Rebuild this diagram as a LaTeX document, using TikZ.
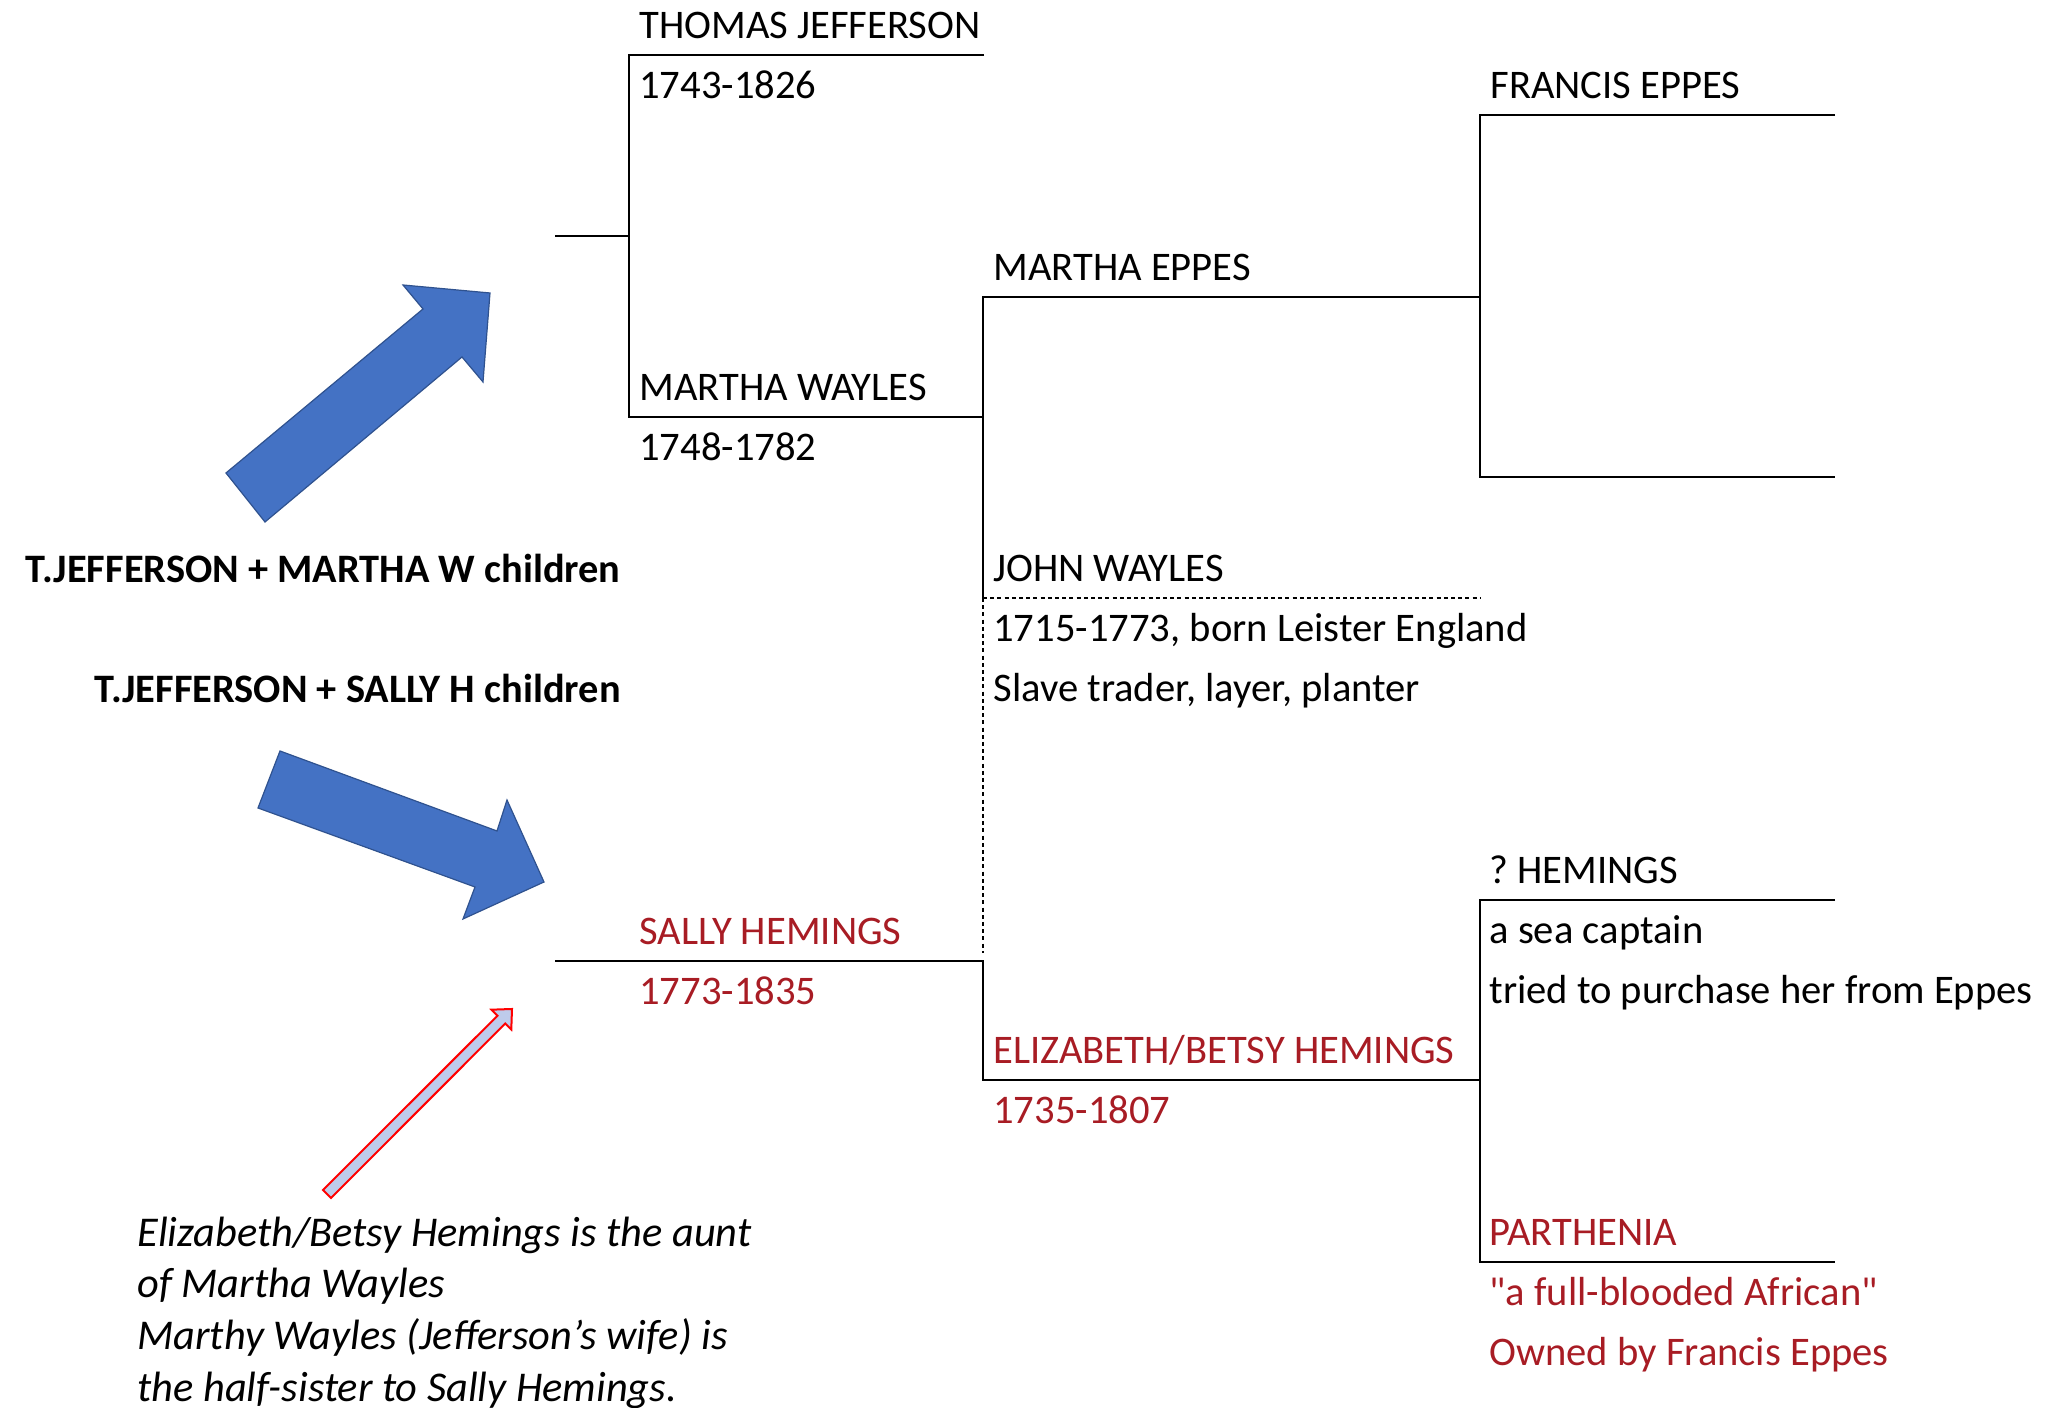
\documentclass[tikz,border=0pt]{standalone}
\usepackage{fontspec}
\setmainfont{Carlito}
\usepackage{tikz}
\usetikzlibrary{positioning}

\definecolor{kinred}{RGB}{168,28,36}
\definecolor{arrowblue}{RGB}{68,114,196}
\definecolor{arrowedge}{RGB}{47,82,143}
\definecolor{notefill}{RGB}{190,203,235}

\begin{document}
\begin{tikzpicture}[x=0.25pt, y=-0.25pt, line width=0.7pt,
    person/.style={anchor=base west, inner sep=0pt, font=\fontsize{10.15}{12}\selectfont},
    kin/.style={person, text=kinred},
    tag/.style={anchor=base east, inner sep=0pt, font=\fontsize{10.1}{12}\selectfont\bfseries},
    note/.style={anchor=base west, inner sep=0pt, font=\fontsize{10.6}{13}\selectfont\itshape},
    block/.style={fill=arrowblue, draw=arrowedge, line width=0.3pt},
    faint/.style={line width=0.4pt, dash pattern=on 1pt off 0.8pt}]
    % 1. Page frame (pixel units, y downwards)
    \useasboundingbox (0,0) rectangle (2049,1408);

    % 2. Branch points of the tree
    \coordinate (jm) at (555,236);
    \coordinate (jmv) at (629,236);
    \coordinate (tj) at (629,55);
    \coordinate (tjend) at (984,55);
    \coordinate (mw) at (629,417);
    \coordinate (mwv) at (983,417);
    \coordinate (me) at (983,297);
    \coordinate (meend) at (1480,297);
    \coordinate (fe) at (1480,115);
    \coordinate (feend) at (1835,115);
    \coordinate (fe2) at (1480,477);
    \coordinate (fe2end) at (1835,477);
    \coordinate (jw) at (983,598);
    \coordinate (jwend) at (1480,598);
    \coordinate (sh) at (555,961);
    \coordinate (shv) at (983,961);
    \coordinate (eh) at (983,1080);
    \coordinate (ehv) at (1480,1080);
    \coordinate (qh) at (1480,900);
    \coordinate (qhend) at (1835,900);
    \coordinate (pa) at (1480,1262);
    \coordinate (paend) at (1835,1262);

    % 3. Tree lines
    \draw (jm) -- (jmv);
    \draw (tjend) -- (tj) -- (mw) -- (mwv);
    \draw (meend) -- (me) -- (jw);
    \draw (feend) -- (fe) -- (fe2) -- (fe2end);
    \draw (sh) -- (shv) -- (eh) -- (ehv);
    \draw (qhend) -- (qh) -- (pa) -- (paend);
    % John Wayles is only a half-line
    \draw[faint] (jw) -- (jwend);
    \draw[faint] (jw) -- ([yshift=2pt]shv);

    % 4. Names and dates
    \node[person] (tjname) at ([shift={(9,-16)}]tj) {THOMAS JEFFERSON};
    \node[person] (tjdate) at ([shift={(9,44)}]tj) {1743-1826};
    \node[person] (mwname) at ([shift={(9,-16)}]mw) {MARTHA WAYLES};
    \node[person] (mwdate) at ([shift={(9,44)}]mw) {1748-1782};
    \node[person] (mename) at ([shift={(9,-16)}]me) {MARTHA EPPES};
    \node[person] (fename) at ([shift={(9,-16)}]fe) {FRANCIS EPPES};
    \node[person] (jwname) at ([shift={(9,-16)}]jw) {JOHN WAYLES};
    \node[person] (jwdate) at ([shift={(9,44)}]jw) {1715-1773, born Leister England};
    \node[person] (jwjob) at ([shift={(9,104)}]jw) {Slave trader, layer, planter};
    \node[kin] (shname) at ([shift={(83,-16)}]sh) {SALLY HEMINGS};
    \node[kin] (shdate) at ([shift={(83,44)}]sh) {1773-1835};
    \node[kin] (ehname) at ([shift={(9,-16)}]eh) {ELIZABETH/BETSY HEMINGS};
    \node[kin] (ehdate) at ([shift={(9,44)}]eh) {1735-1807};
    \node[person] (qhname) at ([shift={(8,-16)}]qh) {?\ HEMINGS};
    \node[person] (qhjob) at ([shift={(8,44)}]qh) {a sea captain};
    \node[person] (qhnote) at ([shift={(8,104)}]qh) {tried to purchase her from Eppes};
    \node[kin] (paname) at ([shift={(8,-16)}]pa) {PARTHENIA};
    \node[kin] (paorigin) at ([shift={(8,44)}]pa) {\textquotedbl a full-blooded African\textquotedbl};
    \node[kin] (paowner) at ([shift={(8,104)}]pa) {Owned by Francis Eppes};

    % 5. Children tags and block arrows
    \node[tag] (tagmw) at (622,583) {T.JEFFERSON + MARTHA W children};
    \node[tag] (tagsh) at (622,703) {T.JEFFERSON + SALLY H children};
    \filldraw[block] (226,473) -- (423,309) -- (403,285) -- (490,293)
        -- (483,382) -- (462,357) -- (265,522) -- cycle;
    \filldraw[block] (280,751) -- (497,831) -- (507,800) -- (544,882)
        -- (463,919) -- (475,887) -- (258,808) -- cycle;

    % 6. Note with thin red arrow
    \filldraw[draw=red, fill=notefill, line width=0.5pt]
        (323,1190) -- (497.5,1015.7) -- (491.5,1009.7) -- (512,1009)
        -- (511.3,1029.5) -- (505.3,1023.5) -- (331,1198) -- cycle;
    \node[note] (note1) at (136,1247) {Elizabeth/Betsy Hemings is the aunt};
    \node[note] (note2) at (136,1298) {of Martha Wayles};
    \node[note] (note3) at (136,1350) {Marthy Wayles (Jefferson’s wife) is};
    \node[note] (note4) at (136,1402) {the half-sister to Sally Hemings.};
\end{tikzpicture}
\end{document}
